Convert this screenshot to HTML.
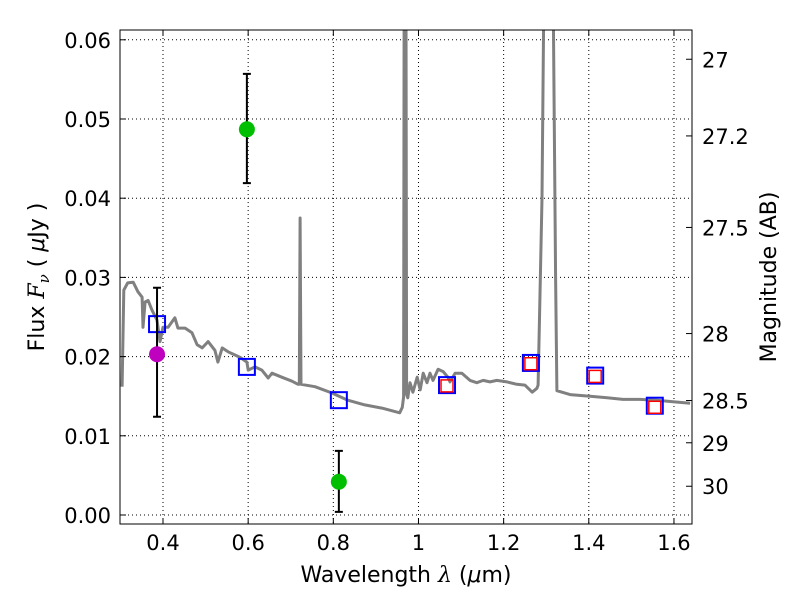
<!DOCTYPE html>
<html><head><meta charset="utf-8"><style>body{margin:0;background:#fff}svg text{font-family:"DejaVu Sans","Liberation Sans",sans-serif}</style></head>
<body>
<svg id="chart" width="800" height="600" xmlns="http://www.w3.org/2000/svg">
<defs><clipPath id="clip"><rect x="120" y="30" width="572" height="494"/></clipPath></defs>
<g id="grid"></g>
<g id="spec" clip-path="url(#clip)"></g>
<g id="marks"></g>
<rect x="120" y="30" width="572" height="494" fill="none" stroke="#000" stroke-width="1"/>
<g id="axes"></g>
<text x="406" y="582" font-size="22" text-anchor="middle">Wavelength  <tspan font-family="DejaVu Serif" font-style="italic">λ</tspan> (<tspan font-style="italic">μ</tspan>m)</text>
<text transform="translate(44,277) rotate(-90)" font-size="22" text-anchor="middle">Flux  <tspan font-family="DejaVu Serif" font-style="italic">F</tspan><tspan font-family="DejaVu Serif" font-style="italic" font-size="15" dy="5">ν</tspan><tspan dy="-5">  (  </tspan><tspan font-style="italic">μ</tspan>Jy )</text>
<text transform="translate(776,277) rotate(-90)" font-size="22" text-anchor="middle">Magnitude (AB)</text>
</svg>
<script>
const specLam=[0.304,0.308,0.317,0.330,0.341,0.351,0.353,0.358,0.365,0.374,0.386,0.393,0.400,0.412,0.428,0.435,0.452,0.468,0.480,0.492,0.506,0.522,0.529,0.539,0.553,0.569,0.581,0.597,0.600,0.616,0.632,0.647,0.656,0.679,0.703,0.717,0.720,0.722,0.724,0.757,0.797,0.834,0.874,0.914,0.956,0.962,0.965,0.967,0.970,0.972,0.975,0.980,0.987,0.997,1.004,1.011,1.020,1.027,1.034,1.046,1.058,1.069,1.074,1.086,1.102,1.121,1.137,1.152,1.168,1.184,1.208,1.231,1.250,1.267,1.278,1.281,1.290,1.297,1.314,1.322,1.325,1.356,1.403,1.443,1.480,1.520,1.560,1.598,1.638];
const specFlux=[0.0162,0.0284,0.0293,0.0294,0.0282,0.0275,0.0237,0.0269,0.0271,0.0259,0.0246,0.0219,0.0237,0.0237,0.0249,0.0236,0.0236,0.0230,0.0215,0.0211,0.0219,0.0208,0.0193,0.0211,0.0206,0.0202,0.0199,0.0193,0.0183,0.0187,0.0183,0.0173,0.0179,0.0174,0.0169,0.0165,0.0165,0.0375,0.0165,0.0162,0.0154,0.0145,0.0139,0.0135,0.0129,0.0136,0.0149,0.09,0.09,0.0152,0.0148,0.0167,0.0155,0.0174,0.0158,0.0179,0.0167,0.0179,0.0170,0.0184,0.0181,0.0174,0.0168,0.0179,0.0179,0.0170,0.0167,0.0170,0.0168,0.0170,0.0168,0.0165,0.0164,0.0155,0.0160,0.0164,0.04,0.08,0.08,0.03,0.0157,0.0152,0.0150,0.0148,0.0146,0.0146,0.0145,0.0143,0.0141];
const obsLam=[0.386,0.597,0.813];
const obsFlux=[0.0203,0.0487,0.0042];
const obsLo=[0.0124,0.0419,0.0004];
const obsHi=[0.0287,0.0557,0.0081];
const obsColor=["#bf00bf","#00bf00","#00bf00"];
const modLam=[0.386,0.597,0.813,1.067,1.264,1.415,1.555];
const modFlux=[0.0241,0.0187,0.0145,0.0164,0.0192,0.0176,0.0138];
const redLam=[1.067,1.264,1.415,1.555];
const redFlux=[0.0163,0.0191,0.0175,0.0136];
const xTicks=[0.4,0.6,0.8,1.0,1.2,1.4,1.6];
const xTickLabels=["0.4","0.6","0.8","1","1.2","1.4","1.6"];
const yTicks=[0,0.01,0.02,0.03,0.04,0.05,0.06];
const yTickLabels=["0.00","0.01","0.02","0.03","0.04","0.05","0.06"];
const magTicks=[27,27.2,27.5,28,28.5,29,30];
const magLabels=["27","27.2","27.5","28","28.5","29","30"];

const NS="http://www.w3.org/2000/svg";
const X=l=>163+(l-0.4)*425.8;
const Y=f=>515-f*7920;
function mk(tag,attrs,parent){const e=document.createElementNS(NS,tag);for(const k in attrs)e.setAttribute(k,attrs[k]);parent.appendChild(e);return e;}
const grid=document.getElementById('grid'),axes=document.getElementById('axes'),spec=document.getElementById('spec'),marks=document.getElementById('marks');
xTicks.forEach((t,i)=>{const x=X(t);
 let g=mk('line',{x1:x,x2:x,y1:30,y2:524,stroke:'#000','stroke-dasharray':'1,3','stroke-width':1},grid);
 
 mk('line',{x1:x,x2:x,y1:524,y2:518,stroke:'#000'},axes);mk('line',{x1:x,x2:x,y1:30,y2:36,stroke:'#000'},axes);
 let tx=mk('text',{x:x,y:550,'font-size':21,'text-anchor':'middle'},axes);tx.textContent=xTickLabels[i];
 });
yTicks.forEach((t,i)=>{const y=Y(t);
 let g=mk('line',{x1:120,x2:692,y1:y,y2:y,stroke:'#000','stroke-dasharray':'1,3','stroke-width':1},grid);
 
 mk('line',{x1:120,x2:126,y1:y,y2:y,stroke:'#000'},axes);
 let tx=mk('text',{x:111,y:y+8,'font-size':21,'text-anchor':'end'},axes);tx.textContent=yTickLabels[i];
 });
magTicks.forEach((m,i)=>{const y=Y(Math.pow(10,(23.9-m)/2.5));
 mk('line',{x1:686,x2:692,y1:y,y2:y,stroke:'#000'},axes);
 let tx=mk('text',{x:702,y:y+8,'font-size':21},axes);tx.textContent=magLabels[i];
 });
let d=specLam.map((l,i)=>(i?'L':'M')+X(l).toFixed(1)+','+Y(specFlux[i]).toFixed(1)).join('');
let sp=mk('path',{d:d,fill:'none',stroke:'#808080','stroke-width':3,'stroke-linejoin':'round'},spec);


modLam.forEach((l,i)=>{let r=mk('rect',{x:X(l)-8,y:Y(modFlux[i])-8,width:16,height:16,fill:'none',stroke:'#0000ff','stroke-width':2},marks);
 });
redLam.forEach((l,i)=>{let r=mk('rect',{x:X(l)-6,y:Y(redFlux[i])-6,width:12,height:12,fill:'none',stroke:'#ff0000','stroke-width':1.5},marks);
 });
obsLam.forEach((l,i)=>{const x=X(l);
 let e=mk('path',{d:`M${x},${Y(obsLo[i])}V${Y(obsHi[i])}M${x-4},${Y(obsLo[i])}h8M${x-4},${Y(obsHi[i])}h8`,stroke:'#000','stroke-width':2,fill:'none'},marks);
 
 let c=mk('circle',{cx:x,cy:Y(obsFlux[i]),r:8,fill:obsColor[i]},marks);
 });
</script>
</body></html>
